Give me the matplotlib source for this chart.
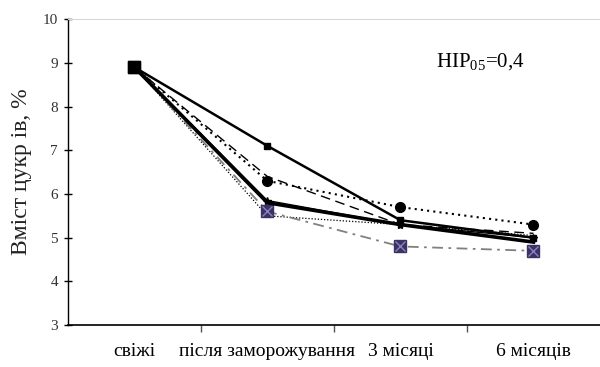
import numpy as np
import matplotlib.pyplot as plt

plt.rcParams['font.family'] = ['Liberation Serif', 'DejaVu Serif']
plt.rcParams['mathtext.fontset'] = 'custom'
plt.rcParams['mathtext.rm'] = 'Liberation Serif'

# categories along x
stages = ['свіжі', 'після заморожування', '3 місяці', '6 місяців']

# sugar content, %
s_square = [8.9, 7.1, 5.4, 5.0]     # solid, small squares
s_circle = [8.9, 6.3, 5.7, 5.3]     # dotted, circles
s_dashed = [8.9, 6.4, 5.3, 5.1]     # long dashes
s_thick = [8.9, 5.8, 5.3, 4.9]      # thick solid
s_star = [8.9, 5.85, 5.3, 5.0]      # thin solid, asterisks
s_cross = [8.9, 5.6, 4.8, 4.7]      # dash-dot, crossed squares
s_fine = [8.9, 5.5, 5.3, 5.05]      # fine dots

fig = plt.figure(figsize=(6, 3.67), dpi=100)
ax = fig.add_axes([0.113, 0.114, 0.887, 0.834])
x = np.arange(len(stages))

ax.plot(x, s_fine, color='black', lw=0.9, ls=(0, (1, 1.5)))
ax.plot(x, s_cross, color='#808080', lw=1.3, ls=(0, (6, 3, 1.5, 3)))
ax.plot(x, s_cross, ls='none', marker='s', ms=9, mfc='#3b3363', mec='#3b3363')
ax.plot(x, s_cross, ls='none', marker='x', ms=7, mec='#8c80c0', mew=1)
ax.plot(x, s_dashed, color='black', lw=1.0, ls=(0, (7, 4)))
ax.plot(x, s_circle, color='black', lw=1.5, ls=(0, (1, 2)), marker='o', ms=7)
ax.plot(x, s_star, color='black', lw=1.0, marker='*', ms=6)
ax.plot(x, s_thick, color='black', lw=2.6)
ax.plot(x, s_square, color='black', lw=1.8, marker='s', ms=4)
ax.plot(x[:1], s_square[:1], ls='none', marker='s', ms=9, color='black')

ax.set_xlim(-0.5, 3.5)
ax.set_ylim(3, 10)
ax.set_yticks(range(3, 11))
ax.tick_params(axis='y', direction='inout', length=6, width=1, labelsize=11,
               pad=4, labelcolor='#333333')
ax.set_xticks(x)
ax.set_xticklabels(stages, fontsize=14)
ax.tick_params(axis='x', which='major', length=0, pad=13)
ax.set_xticks([0.5, 1.5, 2.5], minor=True)
ax.tick_params(axis='x', which='minor', direction='out', length=5, width=1, color='#555555')

ax.spines['right'].set_visible(False)
ax.spines['top'].set_color('#d8d8d8')
ax.spines['left'].set_linewidth(1)
ax.spines['bottom'].set_linewidth(1.2)

ax.set_ylabel('Вміст цукр ів, %', fontsize=17, labelpad=8, color='#222222')
ax.text(2.6, 9.02, r'HIP$_{\mathrm{05}}$=0,4', fontsize=15, ha='center', va='center')

fig.savefig('out.png', dpi=100)
